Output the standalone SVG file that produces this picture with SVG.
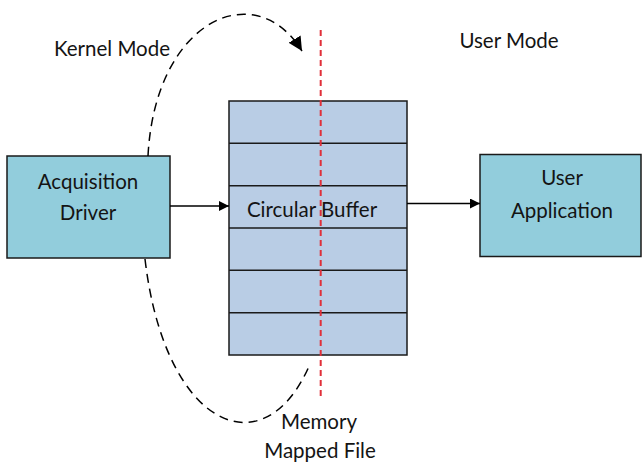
<svg xmlns="http://www.w3.org/2000/svg" width="642" height="462" viewBox="0 0 642 462">
<defs>
<style>
text{font-family:Lato,"Open Sans","Liberation Sans",sans-serif;font-size:20.5px;fill:#141414;text-anchor:middle;dominant-baseline:central}
.box{stroke:#1a1a1a;stroke-width:1.5}
.drv{fill:#92cddc}
.buf{fill:#b9cde5}
.row{stroke:#1a1a1a;stroke-width:1.5}
.conn{stroke:#000;stroke-width:1.5;fill:none}
.dash{stroke:#000;stroke-width:1.5;fill:none;stroke-dasharray:9 6}
</style>
<marker id="ah" viewBox="0 0 10 10" refX="10" refY="5" markerWidth="10" markerHeight="10" markerUnits="userSpaceOnUse" orient="auto">
<path d="M0,0 L10,5 L0,10 z" fill="#000"/>
</marker>
<marker id="ah2" viewBox="0 0 10 10" refX="10" refY="5" markerWidth="14" markerHeight="14" markerUnits="userSpaceOnUse" orient="auto">
<path d="M0,0 L10,5 L0,10 z" fill="#000"/>
</marker>
</defs>
<rect width="642" height="462" fill="#fff"/>
<g id="driver">
<rect class="box drv" x="7" y="156" width="163" height="102"/>
<text x="88" y="181">Acquisition</text>
<text x="88" y="212">Driver</text>
</g>
<g id="buffer">
<rect class="box buf" x="229" y="101" width="178" height="254"/>
<line class="row" x1="229" y1="143.3" x2="407" y2="143.3"/>
<line class="row" x1="229" y1="185.7" x2="407" y2="185.7"/>
<line class="row" x1="229" y1="228" x2="407" y2="228"/>
<line class="row" x1="229" y1="270.3" x2="407" y2="270.3"/>
<line class="row" x1="229" y1="312.7" x2="407" y2="312.7"/>
<text x="312" y="209">Circular Buffer</text>
</g>
<g id="userapp">
<rect class="box drv" x="480" y="154.5" width="161" height="102"/>
<text x="562" y="177">User</text>
<text x="562" y="210">Application</text>
</g>
<g id="labels">
<text x="112" y="48">Kernel Mode</text>
<text x="509" y="40">User Mode</text>
<text x="319" y="421">Memory</text>
<text x="320" y="450">Mapped File</text>
</g>
<g id="connectors">
<line class="conn" x1="170" y1="206" x2="229" y2="206" marker-end="url(#ah)"/>
<line class="conn" x1="407" y1="203.5" x2="480" y2="203.5" marker-end="url(#ah)"/>
<path class="dash" d="M148,156 C155,20 255,-25 302,51" marker-end="url(#ah2)"/>
<path class="dash" d="M145,259 C165,430 265,470 310,364"/>
<line x1="320.7" y1="30" x2="320.7" y2="400" stroke="#e0303a" stroke-width="2" stroke-dasharray="6 4"/>
</g>
</svg>
